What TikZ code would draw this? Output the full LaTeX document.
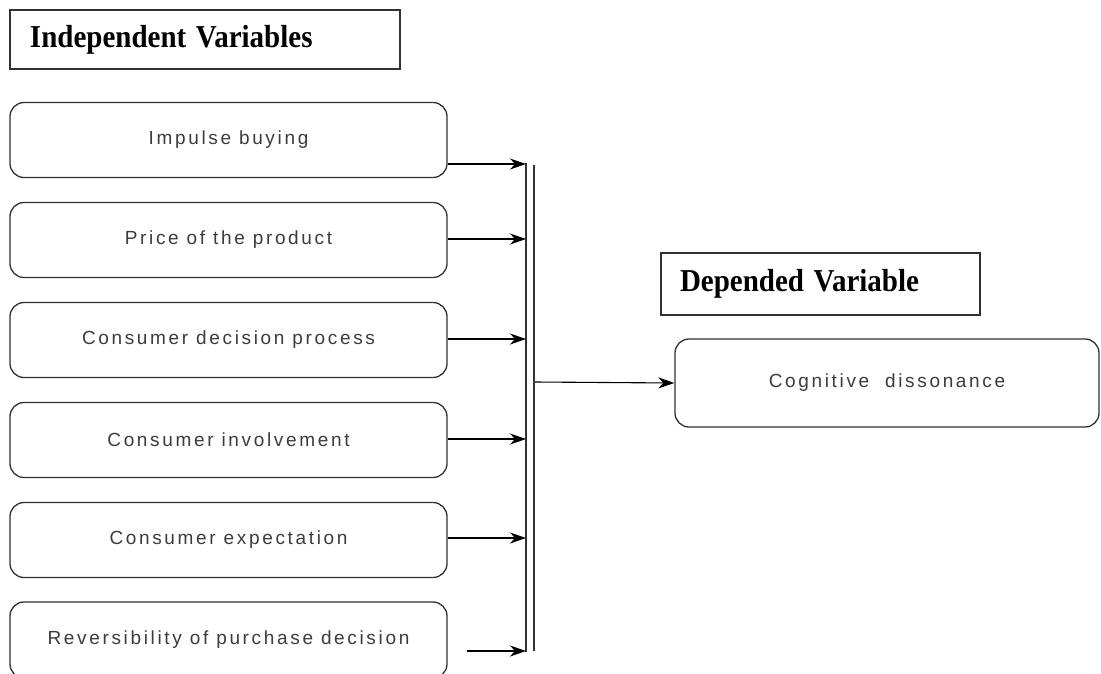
\documentclass[tikz,border=0pt]{standalone}
\usepackage{fontspec}
\usetikzlibrary{arrows.meta}
\newfontfamily\hdrfont{Liberation Serif}
\newfontfamily\boxfont[LetterSpace=14]{Liberation Sans}
\definecolor{edgegray}{RGB}{50,50,50}
\definecolor{txtgray}{RGB}{60,60,60}
\newcommand{\tallhdr}[1]{\scalebox{1}[1.1]{#1}}
\tikzset{
  hdr/.style={draw=edgegray, line width=1.2pt, minimum height=59pt, inner xsep=20pt,
    align=left, font=\hdrfont\fontsize{29}{32}\selectfont\bfseries, text=black},
  varbox/.style={draw=edgegray, line width=1.3pt, rounded corners=14pt,
    minimum width=437pt, minimum height=75pt, inner sep=0pt,
    font=\boxfont\fontsize{19}{22}\selectfont, text=txtgray},
  arr/.style={draw=black, line width=1.1pt, -{Stealth[length=16pt,width=11pt,inset=5pt]}},
  bar/.style={draw=edgegray, line width=1.6pt}
}
\begin{document}
\begin{tikzpicture}[x=1pt,y=-1pt]
\useasboundingbox (0,0) rectangle (1101,673);
\fill[white] (0,0) rectangle (1101,673);

\node[hdr, text width=350pt, minimum width=390pt] (h1) at (205,39.5) {\tallhdr{Independent Variables}};
\node[hdr, inner xsep=19pt, text width=281pt, minimum width=319pt, minimum height=62pt] (h2) at (820.5,284) {\tallhdr{Depended Variable}};

\node[varbox] (b1) at (228.5,140) {Impulse buying};
\node[varbox] (b2) at (228.5,240) {Price of the product};
\node[varbox] (b3) at (228.5,340) {Consumer decision process};
\node[varbox] (b4) at (228.5,440) {Consumer involvement};
\node[varbox] (b5) at (228.5,540) {Consumer expectation};
\node[varbox, minimum height=76pt] (b6) at (228.5,640) {Reversibility of purchase decision};

\node[varbox, minimum width=424pt, minimum height=88pt] (cog) at (887,383) {Cognitive\ \ dissonance};

\coordinate (v1t) at (526,163);
\coordinate (v1b) at (526,652);
\coordinate (v2t) at (534,165);
\coordinate (v2b) at (534,651);
\draw[bar] (v1t) -- (v1b);
\draw[bar] (v2t) -- (v2b);

\coordinate (h1p) at (526,164);
\coordinate (h2p) at (526,239);
\coordinate (h3p) at (526,339);
\coordinate (h4p) at (526,439);
\coordinate (h5p) at (526,538);
\coordinate (h6p) at (526,651);
\coordinate (s6) at (467,651);
\coordinate (outs) at (535,382);

\draw[arr] (b1.east |- h1p) -- (h1p);
\draw[arr] (b2.east |- h2p) -- (h2p);
\draw[arr] (b3.east |- h3p) -- (h3p);
\draw[arr] (b4.east |- h4p) -- (h4p);
\draw[arr] (b5.east |- h5p) -- (h5p);
\draw[arr] (s6) -- (h6p);
\draw[arr] (outs) -- (cog.west);
\end{tikzpicture}
\end{document}
